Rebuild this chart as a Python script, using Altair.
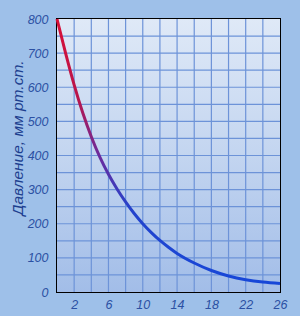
import altair as alt
import pandas as pd

# Data
height_km = [0, 1, 2, 3, 4, 5, 6, 7, 8, 9, 10, 11, 12, 13, 14, 16, 18, 20, 22, 24, 26]
pressure = [800, 700, 607, 525, 455, 395, 345, 302, 264, 230, 200, 174, 151, 131, 113, 85, 63, 47, 36, 29, 25]
x_ticks = [2, 6, 10, 14, 18, 22, 26]
y_ticks = [0, 100, 200, 300, 400, 500, 600, 700, 800]
x_grid = [2, 4, 6, 8, 10, 12, 14, 16, 18, 20, 22, 24]
y_grid = [50, 100, 150, 200, 250, 300, 350, 400, 450, 500, 550, 600, 650, 700, 750]
x_range = [0, 26]
y_range = [0, 800]
y_title = "Давление, мм рт.ст."

df = pd.DataFrame({"h": height_km, "p": pressure})
box = pd.DataFrame({"x0": [x_range[0]], "x1": [x_range[1]], "y0": [y_range[0]], "y1": [y_range[1]]})
xs = alt.Scale(domain=x_range, nice=False, zero=False)
ys = alt.Scale(domain=y_range, nice=False)

FONT = "Liberation Sans"
LABEL_COLOR = "#2b50a3"

x_axis = alt.Axis(
    values=x_ticks, title=None, grid=False, domain=False, ticks=False,
    labelFont=FONT, labelFontStyle="italic", labelFontSize=12.5,
    labelColor=LABEL_COLOR, labelPadding=6, labelFlush=False,
    labelOverlap=False,
)
y_axis = alt.Axis(
    values=y_ticks, title=y_title, grid=False, domain=False, ticks=False,
    labelFont=FONT, labelFontStyle="italic", labelFontSize=12.5,
    labelColor=LABEL_COLOR, labelPadding=9, labelFlush=False,
    labelOverlap=False,
    titleFont=FONT, titleFontStyle="italic", titleFontSize=15.5,
    titleFontWeight="normal", titleColor="#1d3f8f",
    titleAngle=270, titleBaseline="alphabetic", titleAlign="center",
    titleX=-35, titleY=118.5,
)

bg = alt.Chart(box).mark_rect(
    color=alt.Gradient(
        gradient="linear",
        stops=[alt.GradientStop(color="#dfe9f7", offset=0),
               alt.GradientStop(color="#c3d5f0", offset=0.5),
               alt.GradientStop(color="#a2bde8", offset=1)],
        x1=0, x2=0, y1=0, y2=1,
    )
).encode(
    x=alt.X("x0:Q", scale=xs, axis=x_axis), x2="x1:Q",
    y=alt.Y("y0:Q", scale=ys, axis=y_axis), y2="y1:Q",
)

vgrid = alt.Chart(pd.DataFrame({"g": x_grid})).mark_rule(
    color="#6d93d8", strokeWidth=1.2
).encode(x=alt.X("g:Q", scale=xs, axis=x_axis))

hgrid = alt.Chart(pd.DataFrame({"g": y_grid})).mark_rule(
    color="#6d93d8", strokeWidth=1.2
).encode(y=alt.Y("g:Q", scale=ys, axis=y_axis))

line = alt.Chart(df).mark_line(
    interpolate="monotone",
    strokeWidth=3,
    color=alt.Gradient(
        gradient="linear",
        stops=[alt.GradientStop(color="#d80f38", offset=0),
               alt.GradientStop(color="#b8164c", offset=0.3),
               alt.GradientStop(color="#6a2c9e", offset=0.52),
               alt.GradientStop(color="#2443cc", offset=0.72),
               alt.GradientStop(color="#1747d8", offset=1)],
        x1=0, x2=0, y1=0, y2=1,
    ),
).encode(
    x=alt.X("h:Q", scale=xs, axis=x_axis),
    y=alt.Y("p:Q", scale=ys, axis=y_axis),
)

chart = alt.layer(bg, vgrid, hgrid, line).properties(
    width=223, height=273,
    padding={"left": 57, "top": 19, "right": 20, "bottom": 24},
    autosize="none",
    background="#9ec0e9",
).configure_view(stroke="black", strokeWidth=2).configure_axis(labelOverlap=False)

chart.save("out.html", embed_options={"renderer": "svg", "actions": False})
